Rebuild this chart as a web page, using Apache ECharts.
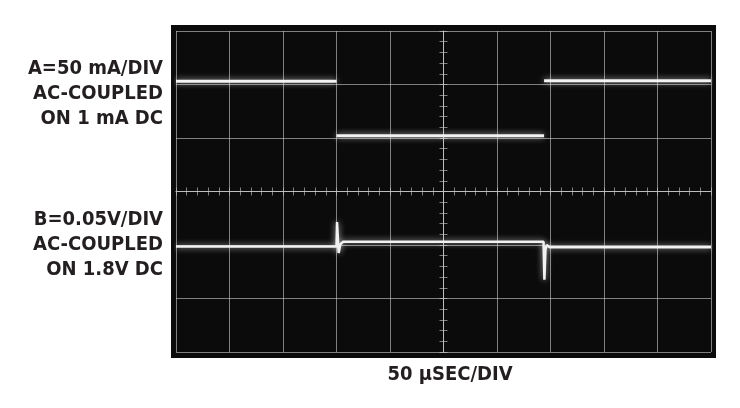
<!DOCTYPE html>
<html>
<head>
<meta charset="utf-8">
<script src="https://cdn.jsdelivr.net/npm/echarts@6/dist/echarts.min.js"></script>
<style>
  html, body { margin: 0; padding: 0; background: #fff; }
  #main { width: 740px; height: 408px; }
</style>
</head>
<body>
<div id="main"></div>
<script>
// time in usec (50 usec per div, screen centre = 0), level in screen divisions
// '-' = gap, the fast edges of trace A don't show on the scope photo
var traceATime  = [-250, -100, -100, -100, 94, 94, 94, 250];
var traceALevel = [2.06, 2.06, '-', 1.04, 1.04, '-', 2.07, 2.07];

var traceBTime  = [-250, -100, -99.5, -98, -96.5, -94, 93.5, 94.3, 95.3, 96.5, 99, 250];
var traceBLevel = [-1.03, -1.03, -0.57, -1.15, -0.99, -0.94, -0.94, -1.65, -1.08, -1.0, -1.04, -1.04];

var labelA = ['A=50 mA/DIV', 'AC-COUPLED', 'ON 1 mA DC'];
var labelB = ['B=0.05V/DIV', 'AC-COUPLED', 'ON 1.8V DC'];
var labelX = '50 \u03bcSEC/DIV';

function pairs(t, v) {
  var out = [];
  for (var i = 0; i < t.length; i++) out.push([t[i], v[i]]);
  return out;
}

var chart = echarts.init(document.getElementById('main'));
var gridCol = 'rgba(200,200,200,0.62)';
var textFont = 'bold 20px "DejaVu Sans Condensed", "Liberation Sans", sans-serif';

var xBase = {
  type: 'value', min: -250, max: 250, interval: 50,
  axisLabel: { show: false },
  axisLine: { onZero: true, onZeroAxisIndex: 0, lineStyle: { color: gridCol, width: 1 } },
  axisTick: { show: true, length: 4, lineStyle: { color: gridCol } },
  minorTick: { show: true, splitNumber: 5, length: 4, lineStyle: { color: gridCol } }
};
var yBase = {
  type: 'value', min: -3, max: 3, interval: 1,
  axisLabel: { show: false },
  axisLine: { onZero: true, onZeroAxisIndex: 0, lineStyle: { color: gridCol, width: 1 } },
  axisTick: { show: true, length: 4, lineStyle: { color: gridCol } },
  minorTick: { show: true, splitNumber: 5, length: 4, lineStyle: { color: gridCol } }
};

var option = {
  backgroundColor: '#ffffff',
  animation: false,
  grid: { left: 176, right: 29, top: 31, bottom: 56 },
  xAxis: [
    Object.assign({}, xBase, { position: 'bottom',
      splitLine: { show: true, lineStyle: { color: gridCol, width: 1 } } }),
    Object.assign({}, xBase, { position: 'top', splitLine: { show: false } })
  ],
  yAxis: [
    Object.assign({}, yBase, { position: 'left',
      splitLine: { show: true, lineStyle: { color: gridCol, width: 1 } } }),
    Object.assign({}, yBase, { position: 'right', splitLine: { show: false } })
  ],
  graphic: [
    { type: 'rect', z: -10, shape: { x: 171, y: 25, width: 545, height: 333 },
      style: { fill: '#0b0b0b' } },
    { type: 'text', x: 163, y: 56,
      style: { text: labelA.join('\n'), font: textFont, fill: '#231f20',
               textAlign: 'right', textVerticalAlign: 'top', lineHeight: 25 } },
    { type: 'text', x: 163, y: 207,
      style: { text: labelB.join('\n'), font: textFont, fill: '#231f20',
               textAlign: 'right', textVerticalAlign: 'top', lineHeight: 25 } },
    { type: 'text', x: 450, y: 375,
      style: { text: labelX, font: textFont, fill: '#231f20',
               textAlign: 'center', textVerticalAlign: 'middle' } }
  ],
  series: [
    {
      name: 'A', type: 'line', data: pairs(traceATime, traceALevel),
      showSymbol: false, symbol: 'none', z: 5, connectNulls: false,
      lineStyle: { color: '#f2f2f2', width: 3, shadowBlur: 6, shadowColor: 'rgba(255,255,255,0.7)' }
    },
    {
      name: 'B', type: 'line', data: pairs(traceBTime, traceBLevel),
      showSymbol: false, symbol: 'none', z: 5,
      lineStyle: { color: '#f2f2f2', width: 2.5, shadowBlur: 6, shadowColor: 'rgba(255,255,255,0.7)' }
    }
  ]
};
chart.setOption(option, true);
</script>
</body>
</html>
